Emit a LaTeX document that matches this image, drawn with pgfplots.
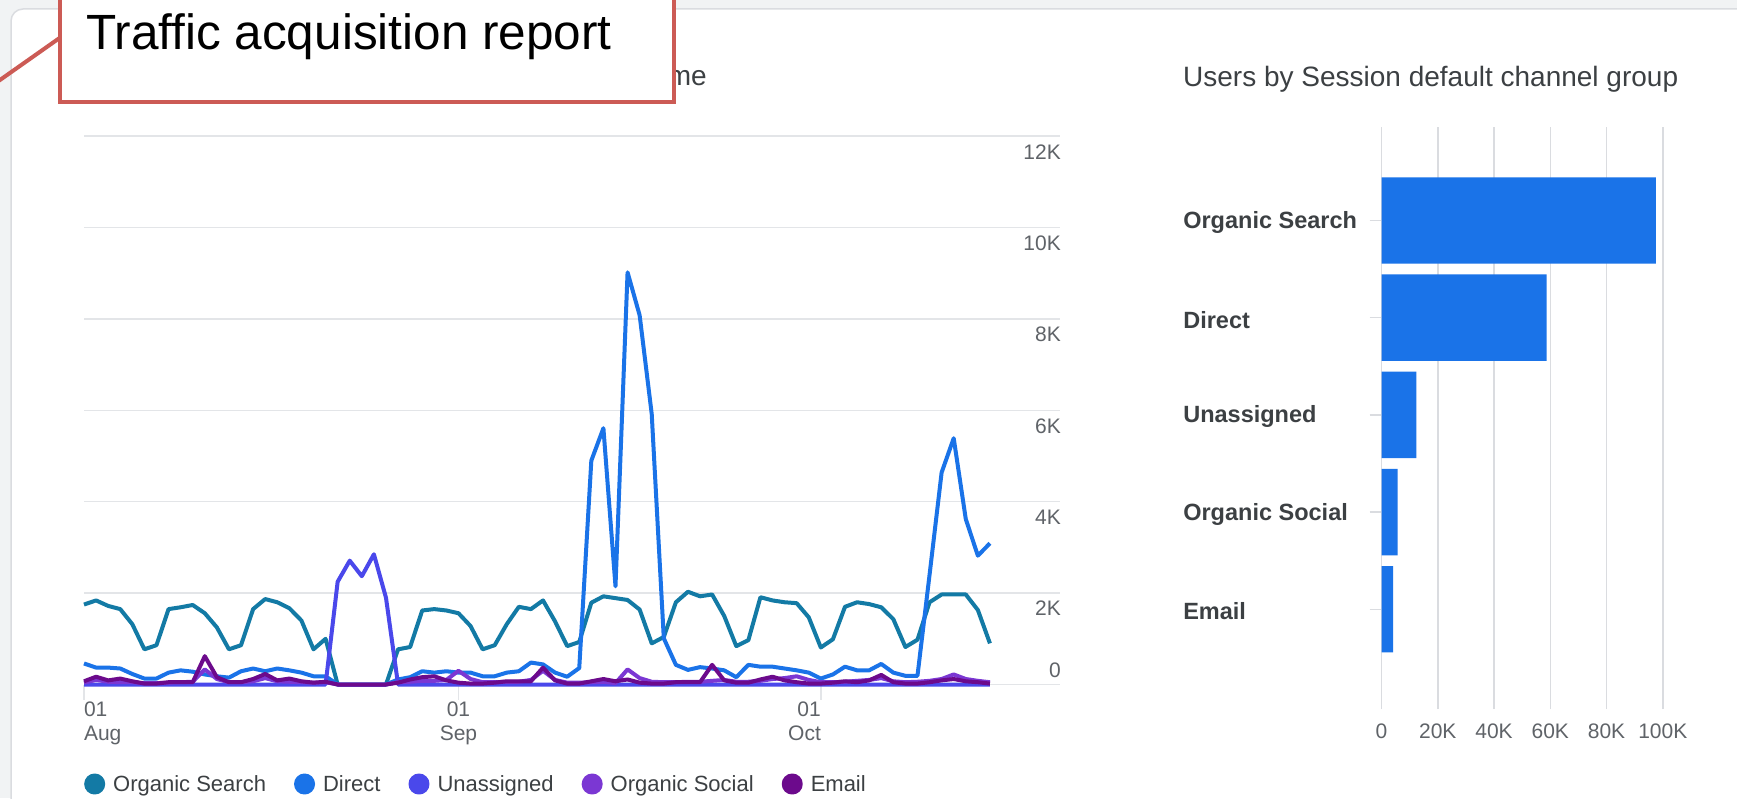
\documentclass[border=0pt]{standalone}
\usepackage{fontspec}
\setmainfont{Liberation Sans}
\usepackage{pgfplots}
\pgfplotsset{compat=1.18}
\usepackage{pgfplotstable}

\definecolor{cOS}{HTML}{137AA5}
\definecolor{cDI}{HTML}{1A73E8}
\definecolor{cUN}{HTML}{4A48EB}
\definecolor{cSO}{HTML}{7B37D3}
\definecolor{cEM}{HTML}{6C0A8C}
\definecolor{gridc}{HTML}{E3E5E8}
\definecolor{labc}{HTML}{5F6368}
\definecolor{titc}{HTML}{3C4043}
\definecolor{bgc}{HTML}{F1F3F4}
\definecolor{cardb}{HTML}{DADCE0}
\definecolor{annc}{HTML}{CC5B55}

\newcommand{\tickfont}{\fontsize{21}{24}\selectfont}
\newcommand{\cat}[1]{\makebox[186pt][l]{#1}}

\pgfplotstableread{
i os di un so em
0 1.75 0.46 0 0.04 0.07
1 1.84 0.37 0 0.10 0.17
2 1.72 0.37 0 0.06 0.09
3 1.65 0.35 0 0.05 0.13
4 1.32 0.23 0 0.05 0.07
5 0.77 0.13 0 0.03 0.02
6 0.86 0.13 0 0.03 0.02
7 1.65 0.26 0 0.04 0.05
8 1.69 0.31 0 0.05 0.05
9 1.74 0.28 0 0.06 0.05
10 1.56 0.22 0 0.33 0.62
11 1.25 0.18 0 0.12 0.16
12 0.77 0.15 0 0.05 0.05
13 0.86 0.29 0 0.05 0.05
14 1.65 0.35 0 0.07 0.12
15 1.87 0.29 0 0.14 0.23
16 1.80 0.35 0 0.07 0.09
17 1.67 0.31 0 0.06 0.13
18 1.40 0.26 0 0.05 0.07
19 0.77 0.18 0 0.04 0.04
20 1.00 0.18 0 0.05 0.06
21 0 0 2.25 0 0
22 0 0 2.71 0 0
23 0 0 2.37 0 0
24 0 0 2.85 0 0
25 0 0 1.90 0 0
26 0.77 0.11 0 0.05 0.04
27 0.82 0.16 0 0.06 0.11
28 1.62 0.29 0 0.08 0.16
29 1.65 0.26 0 0.08 0.18
30 1.62 0.29 0 0.10 0.09
31 1.56 0.26 0 0.30 0.04
32 1.28 0.26 0 0.12 0.02
33 0.77 0.18 0 0.05 0.02
34 0.86 0.18 0 0.05 0.04
35 1.32 0.26 0 0.06 0.07
36 1.70 0.29 0 0.06 0.07
37 1.65 0.48 0 0.10 0.07
38 1.84 0.44 0 0.30 0.37
39 1.38 0.26 0 0.10 0.09
40 0.84 0.17 0 0.04 0.02
41 0.93 0.36 0 0.04 0.02
42 1.79 4.90 0 0.05 0.07
43 1.93 5.61 0 0.06 0.12
44 1.89 2.15 0 0.03 0.07
45 1.85 9.02 0 0.33 0.11
46 1.64 8.08 0 0.14 0.04
47 0.90 5.92 0 0.06 0.02
48 1.04 1.01 0 0.05 0.02
49 1.80 0.43 0 0.05 0.05
50 2.03 0.32 0 0.06 0.05
51 1.93 0.38 0 0.06 0.05
52 1.97 0.35 0 0.08 0.43
53 1.50 0.31 0 0.10 0.09
54 0.84 0.16 0 0.06 0.04
55 0.97 0.43 0 0.06 0.04
56 1.91 0.39 0 0.08 0.11
57 1.84 0.39 0 0.12 0.17
58 1.80 0.35 0 0.14 0.09
59 1.78 0.31 0 0.18 0.05
60 1.47 0.26 0 0.10 0.02
61 0.81 0.13 0 0.05 0.02
62 0.99 0.22 0 0.05 0.04
63 1.70 0.39 0 0.06 0.07
64 1.80 0.31 0 0.08 0.05
65 1.76 0.31 0 0.10 0.09
66 1.69 0.45 0 0.14 0.21
67 1.43 0.26 0 0.07 0.05
68 0.82 0.19 0 0.05 0.02
69 0.98 0.19 0 0.06 0.02
70 1.80 2.40 0 0.08 0.05
71 1.97 4.64 0 0.12 0.09
72 1.97 5.39 0 0.22 0.12
73 1.97 3.62 0 0.12 0.07
74 1.63 2.82 0 0.08 0.05
75 0.90 3.09 0 0.05 0.02
}\traffic

\pgfplotstableread{
k val
4 97.5
3 58.7
2 12.4
1 5.7
0 4.1
}\users

\begin{document}
\begin{tikzpicture}[x=1pt,y=1pt]
\useasboundingbox (0,0) rectangle (1737,798);
\clip (0,0) rectangle (1737,798);
\fill[bgc] (0,0) rectangle (1737,798);
\draw[cardb, fill=white, line width=1.5pt, rounded corners=12pt] (11,-30) rectangle (1800,789);

% titles
\node[anchor=base east, inner sep=0pt, text=titc, font=\fontsize{28}{32}\selectfont] at (707,712) {Users by Session default channel group over time};
\node[anchor=base west, inner sep=0pt, text=titc, font=\fontsize{28}{32}\selectfont] at (1183,711) {Users by Session default channel group};

% line chart
\begin{axis}[
  at={(84pt,113.5pt)}, anchor=south west,
  scale only axis, width=976pt, height=548.3pt,
  xmin=0, xmax=80.8, ymin=0, ymax=12,
  clip=false,
  axis line style={draw=none},
  ytick={2,4,6,8,10,12}, yticklabels={2K,4K,6K,8K,10K,12K},
  ymajorgrids, grid style={gridc, line width=1.5pt},
  yticklabel pos=right,
  ytick style={draw=none},
  yticklabel style={anchor=north east, inner sep=0pt, xshift=-14pt, yshift=-8pt, font=\tickfont, text=labc},
  extra y ticks={0}, extra y tick labels={0},
  extra y tick style={grid=major, major grid style={gridc, line width=1.5pt}, tick style={draw=none},
     yticklabel style={anchor=south east, yshift=15pt}},
  xtick={0,31,61},
  xticklabels={{\rlap{\begin{tabular}{@{}l@{}}01\\Aug\end{tabular}}},{\begin{tabular}{@{}c@{}}01\\Sep\end{tabular}},{\llap{\begin{tabular}{@{}r@{}}01\\Oct\end{tabular}}}},
  xtick pos=bottom, tick align=outside, major tick length=15pt,
  xtick style={gridc, line width=1.5pt},
  xticklabel style={anchor=north, inner sep=0pt, font=\tickfont, text=labc},
  legend columns=5,
  legend cell align=left,
  legend image code/.code={\fill[#1] (0pt,0pt) circle (8.5pt);},
  legend style={at={(0,-0.1815)}, anchor=west, draw=none, fill=none, inner sep=0pt,
     font=\fontsize{22}{26}\selectfont, text=titc,
     /tikz/every even column/.append style={column sep=26pt}},
  every axis plot/.append style={line width=4pt, line join=round, mark=none},
]
\addplot[cOS] table[x=i, y=os] {\traffic};
\addlegendentry{\hspace{6pt}Organic Search}
\addplot[cDI] table[x=i, y=di] {\traffic};
\addlegendentry{\hspace{6pt}Direct}
\addplot[cUN] table[x=i, y=un] {\traffic};
\addlegendentry{\hspace{6pt}Unassigned}
\addplot[cSO] table[x=i, y=so] {\traffic};
\addlegendentry{\hspace{6pt}Organic Social}
\addplot[cEM] table[x=i, y=em] {\traffic};
\addlegendentry{\hspace{6pt}Email}
\end{axis}

% bar chart
\begin{axis}[
  at={(1381.5pt,89pt)}, anchor=south west,
  scale only axis, width=281.3pt, height=582pt,
  xmin=0, xmax=100, ymin=-1.026, ymax=4.962,
  axis line style={draw=none},
  xbar, bar width=0.889,
  xmajorgrids, grid style={cardb, line width=1.5pt},
  xtick={0,20,40,60,80,100}, xticklabels={0,20K,40K,60K,80K,100K},
  xtick style={draw=none},
  xticklabel style={anchor=north, inner sep=0pt, yshift=-3pt, font=\tickfont, text=labc},
  ytick={0,1,2,3,4},
  yticklabels={\cat{Email},\cat{Organic Social},\cat{Unassigned},\cat{Direct},\cat{Organic Search}},
  ytick pos=left, tick align=outside, major tick length=12pt,
  ytick style={cardb, line width=1.5pt},
  yticklabel style={anchor=east, inner sep=0pt, yshift=-2pt, font=\fontsize{23.5}{28}\selectfont\bfseries, text=titc},
]
\addplot[fill=cDI, draw=none] table[x=val, y=k] {\users};
\end{axis}

% annotation
\draw[annc, line width=4pt] (-5,714.5) -- (61,761);
\draw[annc, line width=4pt, fill=white] (60,696) rectangle (673.5,830);
\node[anchor=base west, inner sep=0pt, font=\fontsize{49.5}{56}\selectfont] at (86,748) {Traffic acquisition report};
\end{tikzpicture}
\end{document}
